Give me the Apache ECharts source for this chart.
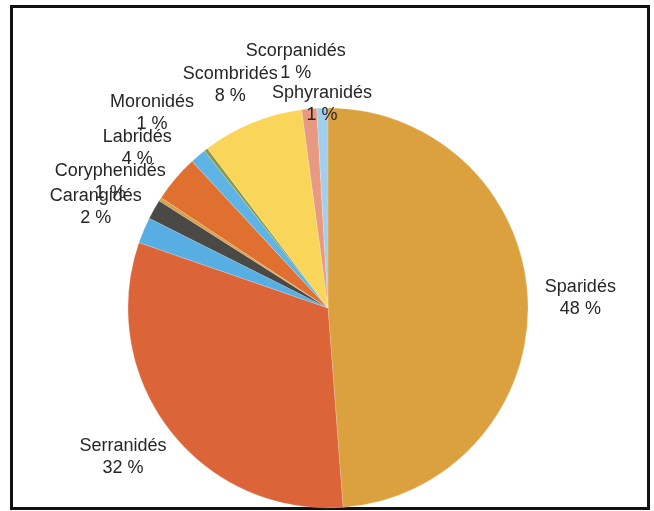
<!DOCTYPE html>
<html>
<head>
<meta charset="utf-8">
<script src="https://cdn.jsdelivr.net/npm/echarts@6/dist/echarts.min.js"></script>
<style>
    html, body { margin: 0; padding: 0; background: #fff; }
    #frame {
        position: absolute; left: 10px; top: 5px;
        width: 634px; height: 499px;
        border: 3px solid #111;
    }
    #chart { position: absolute; left: 0; top: 0; width: 654px; height: 511px; }
</style>
</head>
<body>
<div id="frame"></div>
<div id="chart"></div>
<script>
// familles, dans l'ordre des secteurs (sens horaire depuis midi)
const familles = ['Sparidés', 'Serranidés', 'Carangidés', 'Coryphenidés', 'autre1',
    'Labridés', 'Moronidés', 'autre2', 'Scombridés', 'Scorpanidés', 'Sphyranidés'];
// parts estimées sur l'image (%)
const parts = [48.8, 31.5, 2.1, 1.6, 0.3, 3.8, 1.3, 0.3, 8.2, 1.2, 0.9];
// pourcentages affichés
const etiquettes = ['48 %', '32 %', '2 %', '1 %', '', '4 %', '1 %', '', '8 %', '1 %', '1 %'];
const couleurs = ['#dba13f', '#dc6439', '#56aee3', '#4a4946', '#d9a04a',
    '#e0702f', '#5fb4e6', '#8e9a42', '#f9d65a', '#e79a80', '#a3cfee'];

// décalages des étiquettes par rapport à la position calculée par echarts
const decalX = [-2, 13, 16, 29, 0, 12, 10, 0, 36, 43, 55];
const decalY = [-2, 18, -18, -21, 0, -21, -32, 0, -25, -33, 10];

const chart = echarts.init(document.getElementById('chart'));

const option = {
    animation: false,
    series: [{
        type: 'pie',
        center: [328, 308],
        radius: [0, 200],
        startAngle: 90,
        clockwise: true,
        avoidLabelOverlap: false,
        data: familles.map((nom, i) => ({
            name: nom,
            value: parts[i],
            itemStyle: { color: couleurs[i] },
            label: { show: etiquettes[i] !== '' }
        })),
        itemStyle: { borderColor: 'rgba(255,255,255,0.35)', borderWidth: 0.5 },
        label: {
            position: 'outside',
            formatter: p => p.name + '\n' + etiquettes[p.dataIndex],
            fontFamily: 'Liberation Sans, Arial, sans-serif',
            fontSize: 18,
            lineHeight: 22,
            color: '#262626'
        },
        labelLine: { show: false, length: 14, length2: 0 },
        labelLayout: p => ({
            x: p.labelRect.x + p.labelRect.width / 2 + decalX[p.dataIndex],
            y: p.labelRect.y + p.labelRect.height / 2 + decalY[p.dataIndex],
            align: 'center',
            verticalAlign: 'middle'
        })
    }]
};

chart.setOption(option);
</script>
</body>
</html>
